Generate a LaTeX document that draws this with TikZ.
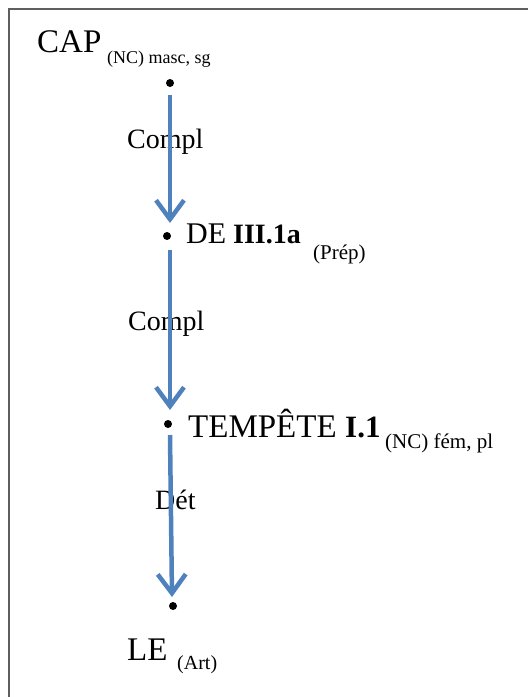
\documentclass[tikz,border=0pt]{standalone}
\usepackage{fontspec}
\setmainfont{Liberation Serif}
\usetikzlibrary{arrows.meta}
\definecolor{arrowblue}{RGB}{79,129,189}
\definecolor{framegray}{RGB}{95,95,95}
\tikzset{
  txt/.style={inner sep=0pt, anchor=base west},
  big/.style={txt, font=\fontsize{33}{36}\selectfont},
  sub/.style={txt, font=\fontsize{20}{22}\selectfont},
  lbl/.style={txt, font=\fontsize{28}{30}\selectfont},
  dotnode/.style={circle, fill=black, inner sep=0pt, minimum size=8pt},
  deparrow/.style={draw=arrowblue, line width=4.5pt,
    -{Straight Barb[length=19pt, width=28pt]}}
}
\begin{document}
\begin{tikzpicture}[x=1pt,y=1pt]
\useasboundingbox (0,0) rectangle (528,-697);
% frame
\draw[framegray, line width=2pt] (9,-697) -- (9,-9) -- (528,-9);
% texts
\node[big] (cap) at (37,-52) {CAP};
\node[sub, font=\fontsize{18}{20}\selectfont] (capsub) at (107,-63) {(NC) masc, sg};
\node[big, font=\fontsize{30}{32}\selectfont] (de) at (186,-243) {DE};
\node[txt, font=\fontsize{28}{30}\selectfont\bfseries] (debold) at (233,-243) {III.1a};
\node[sub, font=\fontsize{21}{23}\selectfont] (desub) at (313,-259) {(Prép)};
\node[big] (temp) at (188,-437) {TEMPÊTE};
\node[txt, font=\fontsize{31}{33}\selectfont\bfseries] (tempbold) at (345,-437) {I.1};
\node[sub, font=\fontsize{21}{23}\selectfont] (tempsub) at (385,-448) {(NC) fém, pl};
\node[big] (le) at (127,-660) {LE};
\node[sub] (lesub) at (177,-669) {(Art)};
\node[lbl] (l1) at (127,-148) {Compl};
\node[lbl] (l2) at (128,-330) {Compl};
\node[lbl] (l3) at (155,-509) {Dét};
% dots
\node[dotnode] (d1) at (170,-83) {};
\node[dotnode] (d2) at (167,-236) {};
\node[dotnode] (d3) at (168,-424) {};
\node[dotnode] (d4) at (173,-606) {};
% arrow ends
\coordinate (s1) at (170,-95);
\coordinate (e1) at (170,-223);
\coordinate (s2) at (170,-250);
\coordinate (e2) at (170,-410);
\coordinate (s3) at (170,-435);
\coordinate (e3) at (172,-597);
% arrows
\draw[deparrow] (s1) -- (e1);
\draw[deparrow] (s2) -- (e2);
\draw[deparrow] (s3) -- (e3);
\end{tikzpicture}
\end{document}
